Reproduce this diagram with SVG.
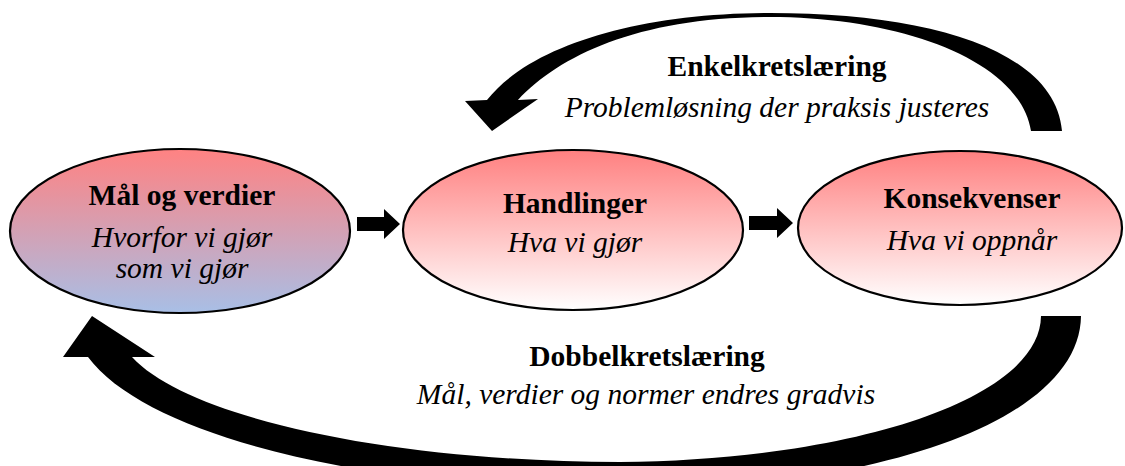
<svg xmlns="http://www.w3.org/2000/svg" width="1125" height="466" viewBox="0 0 1125 466">
  <defs>
    <linearGradient id="gBlue" x1="0" y1="0" x2="0" y2="1">
      <stop offset="0" stop-color="#FF8282"/>
      <stop offset="1" stop-color="#A8BFE6"/>
    </linearGradient>
    <linearGradient id="gWhite" x1="0" y1="0" x2="0" y2="1">
      <stop offset="0" stop-color="#FF8080"/>
      <stop offset="1" stop-color="#FFFFFF"/>
    </linearGradient>
    <style>
      .node { stroke: #000; stroke-width: 2.2; }
      .t { font-family: "Liberation Serif", "Times New Roman", serif; font-size: 29.5px; fill: #000; text-anchor: middle; }
      .b { font-weight: bold; }
      .i { font-style: italic; }
      .arrow { fill: #000; stroke: none; }
    </style>
  </defs>
  <rect width="1125" height="466" fill="#FFFFFF"/>

  <g id="connectors">
    <path id="enkel-arrow" class="arrow" d="M1031,131 C1020,60 900,17 770,17 C640,17 560,55 518,100 L538,99 L492,131 L465,101 L487,100 C530,45 640,13 770,13 C930,13 1055,50 1062,131 Z"/>
    <path id="dobbel-arrow" class="arrow" d="M1041,316 C1040,400 850,460 620,462 C400,462 190,420 132,357 L155,357 L92,316 L63,357 L88,357 C150,440 380,490 620,490 C880,490 1080,420 1081,316 Z"/>
    <path id="arrow-1" class="arrow" d="M357,217 L384,217 L384,209 L400,224 L384,239 L384,231 L357,231 Z"/>
    <path id="arrow-2" class="arrow" d="M749,216 L777,216 L777,208 L793,223 L777,238 L777,230 L749,230 Z"/>
  </g>

  <g id="enkel-label">
    <text class="t b" x="777" y="76">Enkelkretslæring</text>
    <text class="t i" x="777" y="117">Problemløsning der praksis justeres</text>
  </g>
  <g id="dobbel-label">
    <text class="t b" x="647" y="366">Dobbelkretslæring</text>
    <text class="t i" x="646" y="404">Mål, verdier og normer endres gradvis</text>
  </g>

  <g id="node-maal">
    <ellipse class="node" cx="180" cy="231" rx="170" ry="82" fill="url(#gBlue)"/>
    <text class="t b" x="182" y="205">Mål og verdier</text>
    <text class="t i" x="182" y="247">Hvorfor vi gjør</text>
    <text class="t i" x="182" y="278">som vi gjør</text>
  </g>

  <g id="node-handlinger">
    <ellipse class="node" cx="573" cy="230" rx="170" ry="80" fill="url(#gWhite)"/>
    <text class="t b" x="575" y="213">Handlinger</text>
    <text class="t i" x="575" y="252">Hva vi gjør</text>
  </g>

  <g id="node-konsekvenser">
    <ellipse class="node" cx="960" cy="228" rx="162" ry="77" fill="url(#gWhite)"/>
    <text class="t b" x="972" y="208">Konsekvenser</text>
    <text class="t i" x="972" y="250">Hva vi oppnår</text>
  </g>
</svg>
